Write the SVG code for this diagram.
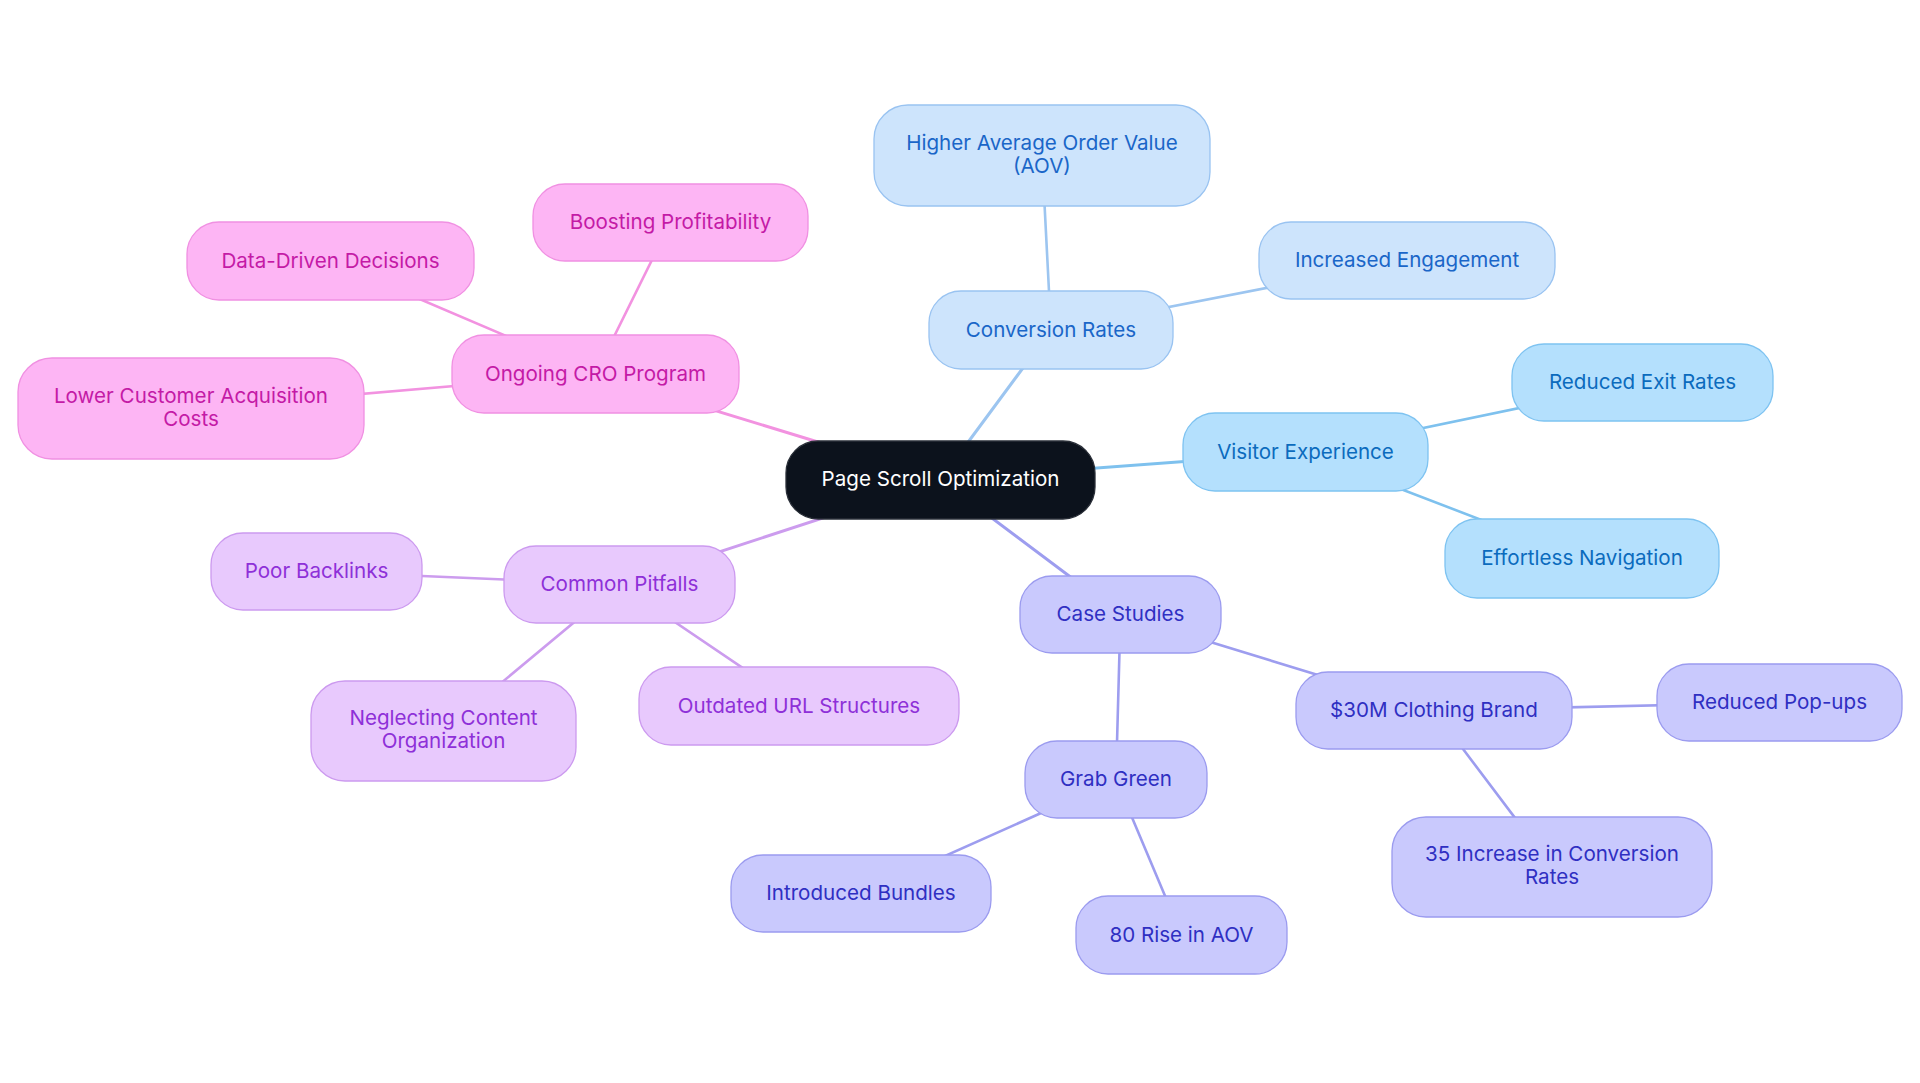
<svg xmlns="http://www.w3.org/2000/svg" width="1920" height="1083" viewBox="0 0 1920 1083">
<style>
text{font-family:Inter,"Noto Sans","Liberation Sans",sans-serif;font-size:20.6px;text-anchor:middle}
.n rect{stroke-width:1.3}
.root rect{fill:#0c121c;stroke:#2a2f38}
.root text{fill:#ffffff}
.pk rect{fill:#fdb5f4;stroke:#f090e2}
.pk text{fill:#c41aa6}
.cv rect{fill:#cde4fc;stroke:#99c3f1}
.cv text{fill:#1a66c8}
.vx rect{fill:#b4e0fd;stroke:#7ec3f1}
.vx text{fill:#0b6bbd}
.cs rect{fill:#c9c9fd;stroke:#9b9bef}
.cs text{fill:#2f2fc2}
.pf rect{fill:#e8c9fd;stroke:#cc9aef}
.pf text{fill:#8e30d8}
#edges line{stroke-width:2.6;stroke-linecap:round}
.e-pk{stroke:#f292e0}
.e-cv{stroke:#9cc5f0}
.e-vx{stroke:#7ec1ee}
.e-cs{stroke:#9d9def}
.e-pf{stroke:#cc9cee}
</style>
<rect width="1920" height="1083" fill="#ffffff"/>
<g id="edges">
<line class="e-cv" x1="940.5" y1="479.5" x2="1051" y2="330" style="stroke-width:3"/>
<line class="e-vx" x1="940.5" y1="479.5" x2="1305.5" y2="452.5" style="stroke-width:3"/>
<line class="e-cs" x1="940.5" y1="479.5" x2="1120.5" y2="614.5" style="stroke-width:3"/>
<line class="e-pf" x1="940.5" y1="479.5" x2="619.5" y2="584.5" style="stroke-width:3"/>
<line class="e-pk" x1="940.5" y1="479.5" x2="595.5" y2="374" style="stroke-width:3"/>
<line class="e-cv" x1="1051" y1="330" x2="1042" y2="155.5"/>
<line class="e-cv" x1="1051" y1="330" x2="1407" y2="260.5"/>
<line class="e-vx" x1="1305.5" y1="452.5" x2="1642.5" y2="382.5"/>
<line class="e-vx" x1="1305.5" y1="452.5" x2="1582" y2="558.5"/>
<line class="e-cs" x1="1120.5" y1="614.5" x2="1434" y2="710.5"/>
<line class="e-cs" x1="1120.5" y1="614.5" x2="1116" y2="779.5"/>
<line class="e-cs" x1="1434" y1="710.5" x2="1779.5" y2="702.5"/>
<line class="e-cs" x1="1434" y1="710.5" x2="1552" y2="867"/>
<line class="e-cs" x1="1116" y1="779.5" x2="861" y2="893.5"/>
<line class="e-cs" x1="1116" y1="779.5" x2="1181.5" y2="935"/>
<line class="e-pf" x1="619.5" y1="584.5" x2="316.5" y2="571.5"/>
<line class="e-pf" x1="619.5" y1="584.5" x2="443.5" y2="731"/>
<line class="e-pf" x1="619.5" y1="584.5" x2="799" y2="706"/>
<line class="e-pk" x1="595.5" y1="374" x2="330.5" y2="261"/>
<line class="e-pk" x1="595.5" y1="374" x2="670.5" y2="222.5"/>
<line class="e-pk" x1="595.5" y1="374" x2="191" y2="408.5"/>
</g>
<g id="n-root" class="n root"><rect x="786" y="441" width="309" height="78" rx="32"/><text x="940.5" y="486">Page Scroll Optimization</text></g>
<g id="n-conv" class="n cv"><rect x="929" y="291" width="244" height="78" rx="32"/><text x="1051" y="336.5">Conversion Rates</text></g>
<g id="n-aov" class="n cv"><rect x="874" y="105" width="336" height="101" rx="34"/><text x="1042" y="149.5">Higher Average Order Value</text><text x="1042" y="172.5">(AOV)</text></g>
<g id="n-eng" class="n cv"><rect x="1259" y="222" width="296" height="77" rx="32"/><text x="1407" y="267">Increased Engagement</text></g>
<g id="n-vis" class="n vx"><rect x="1183" y="413" width="245" height="78" rx="32"/><text x="1305.5" y="459">Visitor Experience</text></g>
<g id="n-exit" class="n vx"><rect x="1512" y="344" width="261" height="77" rx="32"/><text x="1642.5" y="389">Reduced Exit Rates</text></g>
<g id="n-nav" class="n vx"><rect x="1445" y="519" width="274" height="79" rx="32"/><text x="1582" y="565">Effortless Navigation</text></g>
<g id="n-case" class="n cs"><rect x="1020" y="576" width="201" height="77" rx="32"/><text x="1120.5" y="621">Case Studies</text></g>
<g id="n-cloth" class="n cs"><rect x="1296" y="672" width="276" height="77" rx="32"/><text x="1434" y="717">$30M Clothing Brand</text></g>
<g id="n-pop" class="n cs"><rect x="1657" y="664" width="245" height="77" rx="32"/><text x="1779.5" y="709">Reduced Pop-ups</text></g>
<g id="n-35" class="n cs"><rect x="1392" y="817" width="320" height="100" rx="34"/><text x="1552" y="861">35 Increase in Conversion</text><text x="1552" y="884">Rates</text></g>
<g id="n-grab" class="n cs"><rect x="1025" y="741" width="182" height="77" rx="32"/><text x="1116" y="786">Grab Green</text></g>
<g id="n-bund" class="n cs"><rect x="731" y="855" width="260" height="77" rx="32"/><text x="861" y="900">Introduced Bundles</text></g>
<g id="n-80" class="n cs"><rect x="1076" y="896" width="211" height="78" rx="32"/><text x="1181.5" y="941.5">80 Rise in AOV</text></g>
<g id="n-pit" class="n pf"><rect x="504" y="546" width="231" height="77" rx="32"/><text x="619.5" y="591">Common Pitfalls</text></g>
<g id="n-poor" class="n pf"><rect x="211" y="533" width="211" height="77" rx="32"/><text x="316.5" y="578">Poor Backlinks</text></g>
<g id="n-negl" class="n pf"><rect x="311" y="681" width="265" height="100" rx="34"/><text x="443.5" y="725">Neglecting Content</text><text x="443.5" y="748">Organization</text></g>
<g id="n-url" class="n pf"><rect x="639" y="667" width="320" height="78" rx="32"/><text x="799" y="712.5">Outdated URL Structures</text></g>
<g id="n-cro" class="n pk"><rect x="452" y="335" width="287" height="78" rx="32"/><text x="595.5" y="380.5">Ongoing CRO Program</text></g>
<g id="n-data" class="n pk"><rect x="187" y="222" width="287" height="78" rx="32"/><text x="330.5" y="267.5">Data-Driven Decisions</text></g>
<g id="n-boost" class="n pk"><rect x="533" y="184" width="275" height="77" rx="32"/><text x="670.5" y="229">Boosting Profitability</text></g>
<g id="n-low" class="n pk"><rect x="18" y="358" width="346" height="101" rx="34"/><text x="191" y="402.5">Lower Customer Acquisition</text><text x="191" y="425.5">Costs</text></g>
</svg>
